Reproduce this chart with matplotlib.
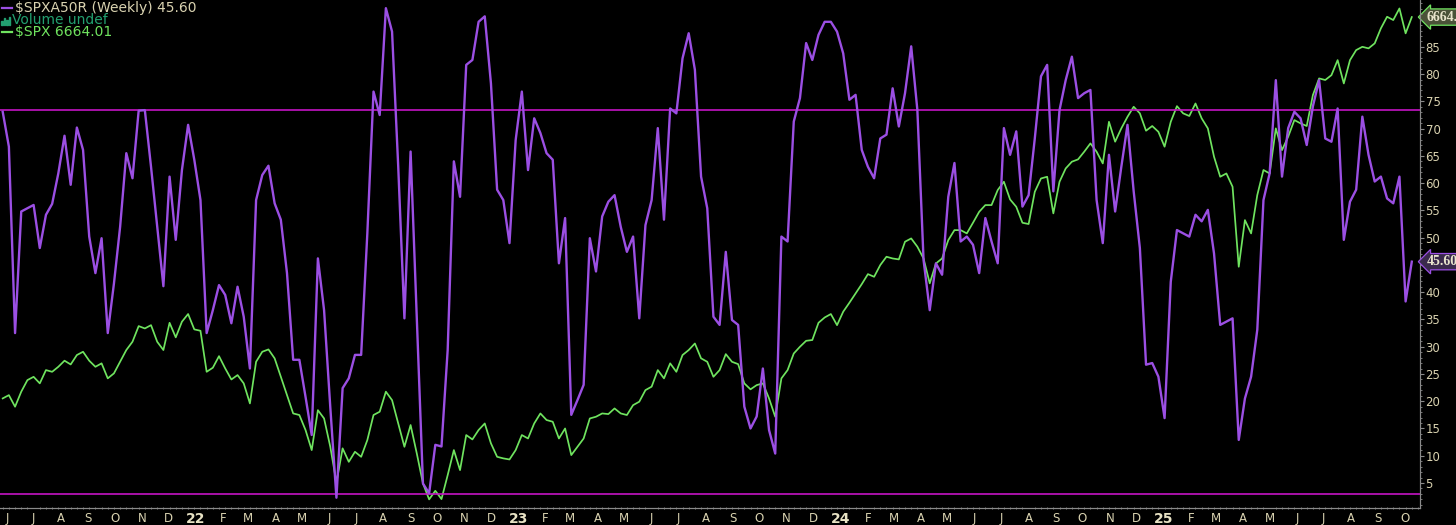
import numpy as np
import pandas as pd
import matplotlib
matplotlib.use("Agg")
import matplotlib.pyplot as plt
import matplotlib.dates as mdates
from matplotlib.patches import Rectangle
from matplotlib.lines import Line2D

# ---------------- data ----------------
start_date = "2021-06-04"
n_weeks = 229
dates = pd.date_range(start_date, periods=n_weeks, freq="W-FRI")

spxa50r = [
    73.1, 66.7, 32.5, 54.8, 55.4, 56.0, 48.1, 54.2, 56.2, 61.8,
    68.7, 59.7, 70.2, 66.1, 50.2, 43.5, 49.9, 32.5, 41.6, 52.0,
    65.5, 60.9, 73.3, 73.4, 63.0, 52.0, 41.1, 61.2, 49.6, 62.4,
    70.7, 64.3, 56.9, 32.5, 36.7, 41.3, 39.5, 34.3, 41.0, 35.5,
    26.0, 56.9, 61.5, 63.2, 56.3, 53.3, 43.5, 27.6, 27.6, 20.8,
    13.8, 46.2, 36.7, 19.0, 2.3, 22.4, 24.2, 28.5, 28.5, 50.8,
    76.8, 72.5, 92.1, 87.8, 63.0, 35.2, 65.8, 35.5, 4.9, 3.1,
    12.0, 11.7, 29.4, 64.0, 57.5, 81.7, 82.6, 89.6, 90.6, 78.3,
    58.8, 56.9, 49.0, 67.9, 76.8, 62.4, 71.9, 69.2, 65.5, 64.3,
    45.3, 53.6, 17.5, 20.2, 23.0, 49.9, 43.8, 53.9, 56.6, 57.8,
    52.0, 47.4, 50.2, 35.2, 52.3, 56.9, 70.1, 53.3, 73.7, 72.8,
    82.9, 87.5, 80.8, 61.2, 55.4, 35.5, 34.0, 47.4, 34.9, 34.0,
    19.0, 15.0, 17.2, 26.0, 14.7, 10.4, 50.2, 49.3, 71.3, 75.6,
    85.7, 82.6, 87.2, 89.6, 89.6, 87.8, 83.8, 75.3, 76.2, 66.1,
    63.0, 60.9, 68.2, 68.9, 77.4, 70.4, 76.5, 85.1, 73.4, 45.9,
    36.7, 45.3, 43.2, 57.5, 63.7, 49.3, 50.2, 48.7, 43.5, 53.6,
    49.3, 45.3, 70.1, 65.2, 69.5, 55.7, 57.8, 68.2, 79.6, 81.7,
    58.5, 73.4, 78.9, 83.2, 75.6, 76.5, 77.1, 56.9, 49.0, 65.2,
    54.8, 63.0, 70.7, 58.5, 48.1, 26.7, 27.0, 24.5, 16.9, 41.9,
    51.4, 50.8, 50.2, 54.2, 53.0, 55.1, 47.1, 34.0, 34.6, 35.2,
    12.9, 20.5, 24.5, 33.1, 56.9, 61.8, 78.9, 61.2, 70.1, 73.1,
    71.9, 67.0, 74.1, 78.9, 68.2, 67.6, 73.7, 49.6, 56.6, 58.8,
    72.2, 65.2, 60.3, 61.2, 57.2, 56.3, 61.2, 38.3, 45.6,
]

spx = [
    4228, 4249, 4175, 4271, 4345, 4366, 4324, 4409, 4398, 4430,
    4469, 4445, 4505, 4526, 4469, 4430, 4452, 4356, 4388, 4462,
    4537, 4590, 4690, 4675, 4696, 4590, 4537, 4711, 4618, 4718,
    4767, 4669, 4660, 4398, 4424, 4498, 4420, 4349, 4377, 4324,
    4196, 4462, 4526, 4541, 4484, 4366, 4249, 4132, 4122, 4026,
    3898, 4153, 4100, 3920, 3690, 3909, 3823, 3887, 3855, 3962,
    4122, 4143, 4271, 4217, 4068, 3919, 4058, 3877, 3685, 3583,
    3638, 3585, 3738, 3898, 3770, 3994, 3966, 4026, 4068, 3941,
    3855, 3845, 3838, 3898, 3994, 3972, 4068, 4132, 4090, 4079,
    3972, 4036, 3866, 3919, 3972, 4100, 4111, 4132, 4128, 4164,
    4132, 4122, 4185, 4207, 4281, 4303, 4409, 4356, 4452, 4398,
    4505, 4537, 4579, 4484, 4462, 4366, 4409, 4511, 4462, 4447,
    4324, 4286, 4313, 4324, 4228, 4111, 4356, 4409, 4515, 4558,
    4596, 4601, 4711, 4745, 4767, 4696, 4782, 4839, 4899, 4958,
    5022, 5005, 5080, 5133, 5122, 5116, 5229, 5250, 5197, 5122,
    4963, 5090, 5122, 5239, 5303, 5303, 5282, 5350, 5420, 5463,
    5463, 5559, 5612, 5499, 5452, 5350, 5342, 5548, 5633, 5644,
    5410, 5612, 5697, 5740, 5755, 5804, 5857, 5804, 5729, 5995,
    5868, 5953, 6027, 6091, 6049, 5938, 5968, 5931, 5836, 5995,
    6095, 6049, 6032, 6112, 6017, 5953, 5772, 5644, 5665, 5580,
    5069, 5367, 5282, 5527, 5687, 5665, 5953, 5814, 5900, 6006,
    5985, 5968, 6166, 6272, 6262, 6293, 6389, 6240, 6389, 6453,
    6474, 6464, 6496, 6592, 6666, 6645, 6719, 6560, 6664.01,
]

upper_level = 73.4
lower_level = 3.0
right_ticks = [5, 10, 15, 20, 25, 30, 35, 40, 50, 55, 60, 65, 70, 75, 80, 85]
month_letters = ["J", "F", "M", "A", "M", "J", "J", "A", "S", "O", "N", "D"]

# ---------------- styling ----------------
BG = "#000000"
PURPLE = "#9b4fe3"
GREEN = "#6fe35f"
MAGENTA = "#c414c4"
TAN = "#d9d2b0"
AXGRAY = "#8a8a8a"

fig = plt.figure(figsize=(14.56, 5.25), dpi=100, facecolor=BG)
ax = fig.add_axes([0.0, 17 / 525, 1420 / 1456, 508 / 525])
ax.set_facecolor(BG)
ax2 = ax.twinx()

# SPX on the underlying axis
ax.plot(dates, spx, color=GREEN, lw=1.25, zorder=2)
ax.set_ylim(3528, 6773)
ax.set_yticks([])

# SPXA50R on the overlay axis
ax2.axhline(upper_level, color=MAGENTA, lw=1.2, zorder=1)
ax2.axhline(lower_level, color=MAGENTA, lw=1.2, zorder=1)
ax2.plot(dates, spxa50r, color=PURPLE, lw=1.7, zorder=3)
ax2.set_ylim(0.41, 93.6)

t0 = pd.Timestamp(start_date)
ax.set_xlim(t0 - pd.Timedelta(days=3.06), t0 + pd.Timedelta(days=1605.3))

# month labels
label_pos, label_txt = [], []
for m in pd.date_range("2021-06-01", "2025-10-01", freq="MS"):
    label_pos.append(m + pd.Timedelta(days=8))
    label_txt.append(f"{m.year % 100:02d}" if m.month == 1 else month_letters[m.month - 1])
ax.set_xticks(label_pos)
ax.set_xticklabels(label_txt)
ax.xaxis.set_minor_locator(mdates.WeekdayLocator(byweekday=mdates.FR))
ax.tick_params(axis="x", which="major", length=0, pad=3, colors=TAN, labelsize=8.5)
ax.tick_params(axis="x", which="minor", length=2, direction="inout", color=AXGRAY, width=0.6)
for lbl in ax.get_xticklabels():
    lbl.set_fontfamily("DejaVu Sans")
    if lbl.get_text().isdigit():
        lbl.set_fontweight("bold")
        lbl.set_fontsize(10)
        lbl.set_color("#e8e2c4")

# right axis ticks
ax2.set_yticks(right_ticks)
ax2.set_yticklabels([str(t) for t in right_ticks])
ax2.yaxis.set_minor_locator(matplotlib.ticker.MultipleLocator(1))
ax2.tick_params(axis="y", which="major", length=3, width=0.8, color=AXGRAY, pad=1,
                colors=TAN, labelsize=8.5, right=True, labelright=True)
ax2.tick_params(axis="y", which="minor", length=1.5, width=0.6, color=AXGRAY)
for lbl in ax2.get_yticklabels():
    lbl.set_color(TAN)
ax2.tick_params(axis="y", which="both", color=AXGRAY)

for a in (ax, ax2):
    for s in ("top", "left"):
        a.spines[s].set_visible(False)
    a.spines["right"].set_color(AXGRAY)
    a.spines["right"].set_linewidth(0.8)
    a.spines["right"].set_linestyle((0, (1, 1)))
    a.spines["bottom"].set_color(AXGRAY)
    a.spines["bottom"].set_linewidth(0.8)
    a.spines["bottom"].set_linestyle((0, (1, 1)))

# value flags on the right edge
ax.annotate("6664.01", xy=(1.0, spx[-1]), xycoords=("axes fraction", "data"),
            xytext=(5, 0), textcoords="offset points", ha="left", va="center",
            fontsize=10, fontweight="bold", family="Liberation Serif", color="#e8e4cc",
            bbox=dict(boxstyle="larrow,pad=0.12", fc="#4a5238", ec=GREEN, lw=0.9),
            annotation_clip=False, zorder=10)
ax2.annotate("45.60", xy=(1.0, spxa50r[-1]), xycoords=("axes fraction", "data"),
             xytext=(5, 0), textcoords="offset points", ha="left", va="center",
             fontsize=10, fontweight="bold", family="Liberation Serif", color="#e8e4cc",
             bbox=dict(boxstyle="larrow,pad=0.12", fc="#3a2a4c", ec=PURPLE, lw=0.9),
             annotation_clip=False, zorder=10)

# legend (top-left)
def fy(py):
    return 1 - py / 525

def fx(px):
    return px / 1456

fig.add_artist(Line2D([fx(2), fx(12)], [fy(8), fy(8)], color=PURPLE, lw=1.6))
fig.text(fx(15), fy(8), r"\$SPXA50R (Weekly) 45.60", color=TAN, fontsize=10,
         va="center", ha="left", family="DejaVu Sans")
for i, h in enumerate([4, 7, 5, 8]):
    fig.add_artist(Rectangle((fx(1 + i * 2.5), fy(25)), fx(1.6), h / 525, color="#22a070"))
fig.text(fx(12), fy(20), "Volume undef", color="#22a070", fontsize=10,
         va="center", ha="left", family="DejaVu Sans")
fig.add_artist(Line2D([fx(2), fx(12)], [fy(32), fy(32)], color=GREEN, lw=1.6))
fig.text(fx(15), fy(32), r"\$SPX 6664.01", color=GREEN, fontsize=10,
         va="center", ha="left", family="DejaVu Sans")

fig.savefig("out.png", dpi=100, facecolor=BG)
